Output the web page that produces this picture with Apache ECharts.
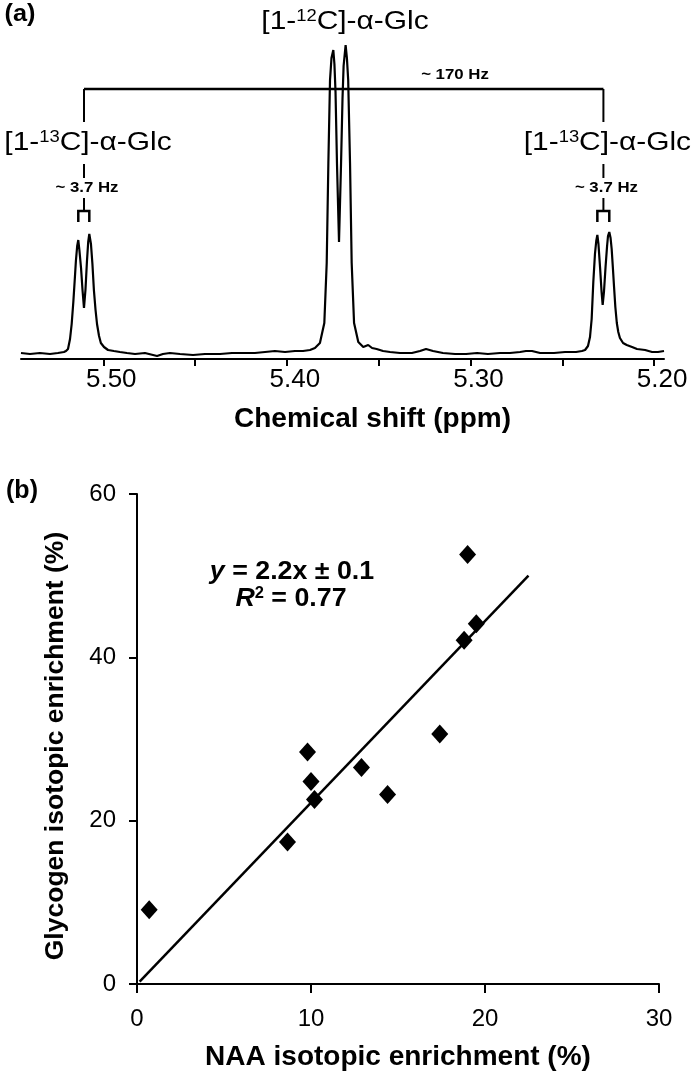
<!DOCTYPE html>
<html><head><meta charset="utf-8">
<script src="https://cdn.jsdelivr.net/npm/echarts/dist/echarts.min.js"></script>
<style>html,body{margin:0;padding:0;background:#fff}#c{width:692px;height:1075px}</style>
</head><body><div id="c"></div>
<script>
// ---- (a) 1H NMR spectrum ----
const shiftPpm = [
  5.5448,5.5399,5.5345,5.5290,5.5247,5.5214,5.5203,5.5192,5.5181,5.5172,
  5.5163,5.5154,5.5149,5.5142,5.5136,5.5130,5.5121,5.5113,5.5105,5.5097,
  5.5089,5.5082,5.5076,5.5067,5.5059,5.5051,5.5042,5.5034,5.5023,5.5013,
  5.4996,5.4974,5.4942,5.4909,5.4871,5.4827,5.4773,5.4707,5.4675,5.4637,
  5.4582,5.4511,5.4446,5.4364,5.4299,5.4239,5.4174,5.4119,5.4065,5.4010,
  5.3956,5.3912,5.3874,5.3847,5.3820,5.3796,5.3783,5.3774,5.3765,5.3757,
  5.3747,5.3741,5.3735,5.3727,5.3716,5.3705,5.3697,5.3691,5.3680,5.3673,
  5.3666,5.3656,5.3647,5.3634,5.3611,5.3584,5.3557,5.3536,5.3511,5.3476,
  5.3438,5.3384,5.3319,5.3275,5.3242,5.3204,5.3150,5.3084,5.3024,5.2964,
  5.2905,5.2839,5.2785,5.2730,5.2698,5.2665,5.2621,5.2545,5.2485,5.2425,
  5.2393,5.2376,5.2360,5.2349,5.2340,5.2331,5.2322,5.2315,5.2309,5.2303,
  5.2294,5.2286,5.2280,5.2273,5.2264,5.2256,5.2251,5.2244,5.2237,5.2231,
  5.2224,5.2218,5.2211,5.2203,5.2195,5.2186,5.2169,5.2149,5.2120,5.2093,
  5.2049,5.2011,5.1979,5.1946
];
const intensity = [
  1,0,1,0,1,2,3,5,15,30,
  52,78,93,108,114,104,86,64,46,64,
  92,112,120,110,90,64,44,30,18,11,
  7,4,3,2,1,0,1,-2,0,1,
  0,-1,0,0,1,1,1,2,3,2,
  3,3,4,6,11,31,91,191,274,296,
  304,290,262,190,112,190,255,288,309,296,
  274,191,91,31,12,7,9,6,5,3,
  2,1,1,3,5,3,1,0,0,1,
  0,1,1,2,3,3,1,1,2,2,
  3,4,8,17,35,72,100,113,119,110,
  86,62,49,62,88,108,118,122,116,105,
  85,67,47,31,22,16,11,9,7,5,
  4,2,2,3
];
const ppmTickValues = [5.20,5.25,5.30,5.35,5.40,5.45,5.50];
const ppmLabelValues = [5.20,5.30,5.40,5.50];
// annotation anchors (ppm)
const couplingCenters = [5.5105, 5.2276];
const doubletPeaks = [[5.5136, 5.5076], [5.2309, 5.2244]];

// ---- (b) enrichment scatter ----
const naaEnrichment      = [0.7, 8.65, 9.8, 10.0, 10.2, 12.9, 14.4, 17.4, 18.8, 19.5, 19.0];
const glycogenEnrichment = [9.1, 17.4, 28.4, 24.8, 22.6, 26.5, 23.2, 30.6, 42.1, 44.1, 52.6];
const fitLineX = [0.15, 22.5];
const fitLineY = [0.3, 50.0];

const FONT = '"Liberation Sans", Arial, Helvetica, sans-serif';
const chart = echarts.init(document.getElementById('c'), null, {renderer:'canvas'});

const blackLine = {color:'#000', width:2};
const option = {
  animation:false,
  backgroundColor:'#fff',
  textStyle:{fontFamily:FONT, color:'#000'},
  grid:[
    {left:21, right:28, top:40, height:319, outerBoundsMode:'none', containLabel:false},
    {left:137, right:33, top:494, bottom:91, outerBoundsMode:'none', containLabel:false}
  ],
  xAxis:[
    {gridIndex:0, type:'value', inverse:true, min:5.1946, max:5.5448,
     axisLine:{show:true, onZero:false, lineStyle:blackLine},
     axisTick:{show:true, customValues:ppmTickValues, length:7, lineStyle:blackLine},
     axisLabel:{show:true, customValues:ppmLabelValues, formatter:v=>Number(v).toFixed(2),
       fontSize:26, color:'#000', fontFamily:FONT, margin:8, padding:[0,0,0,16]},
     splitLine:{show:false},
     name:'Chemical shift (ppm)', nameLocation:'middle', nameGap:46,
     nameTextStyle:{fontSize:28, fontWeight:'bold', color:'#000', fontFamily:FONT, lineHeight:28, padding:[0,0,0,60]}
    },
    {gridIndex:1, type:'value', min:0, max:30, interval:10,
     axisLine:{show:true, onZero:false, lineStyle:blackLine},
     axisTick:{show:true, length:9, lineStyle:blackLine},
     axisLabel:{show:true, fontSize:24, color:'#000', fontFamily:FONT, margin:23},
     splitLine:{show:false},
     name:'NAA isotopic enrichment (%)', nameLocation:'middle', nameGap:59,
     nameTextStyle:{fontSize:28, fontWeight:'bold', color:'#000', fontFamily:FONT, lineHeight:28}
    }
  ],
  yAxis:[
    {gridIndex:0, type:'value', min:-5, max:314, show:false, splitLine:{show:false}},
    {gridIndex:1, type:'value', min:0, max:60, interval:20,
     axisLine:{show:true, onZero:false, lineStyle:blackLine},
     axisTick:{show:true, length:8, lineStyle:blackLine},
     axisLabel:{show:true, fontSize:24, color:'#000', fontFamily:FONT, margin:21},
     splitLine:{show:false},
     name:'Glycogen isotopic enrichment (%)', nameLocation:'middle', nameGap:68,
     nameTextStyle:{fontSize:26.5, fontWeight:'bold', color:'#000', fontFamily:FONT, lineHeight:27, padding:[0,14,0,0]}
    }
  ],
  series:[
    {type:'line', xAxisIndex:0, yAxisIndex:0, data:shiftPpm.map((p,i)=>[p,intensity[i]]),
     symbol:'none', showSymbol:false, lineStyle:{color:'#000', width:2.2}, silent:true, z:3},
    {type:'scatter', xAxisIndex:1, yAxisIndex:1, data:naaEnrichment.map((v,i)=>[v,glycogenEnrichment[i]]),
     symbol:'diamond', symbolSize:[17,19], itemStyle:{color:'#000', opacity:1}, z:4},
    {type:'line', xAxisIndex:1, yAxisIndex:1, data:fitLineX.map((v,i)=>[v,fitLineY[i]]),
     symbol:'none', showSymbol:false, lineStyle:{color:'#000', width:2.5}, silent:true, z:3}
  ]
};
chart.setOption(option);

const px = v => chart.convertToPixel({xAxisIndex:0}, v);
function txt(x, y, text, size, weight, sx, extra){
  const st = Object.assign({text:text, fontSize:size, fontWeight:weight||'normal', fontFamily:FONT,
    fill:'#000', align:'center', verticalAlign:'middle', textAlign:'center', textVerticalAlign:'middle'}, extra||{});
  return {type:'text', x:x, y:y, scaleX:sx||1, z:20, style:st};
}
function seg(x1,y1,x2,y2,w){
  return {type:'line', z:10, shape:{x1:x1,y1:y1,x2:x2,y2:y2}, style:{stroke:'#000', lineWidth:w||2}};
}
const supRich = {sup:{fontSize:16, fontFamily:FONT, verticalAlign:'top', fill:'#000'}};
const els = [];
const cL = px(couplingCenters[0]), cR = px(couplingCenters[1]);
const barY = 89, brY = 211, legY = 222;
els.push(seg(cL, barY, cR, barY, 2.5));
[cL, cR].forEach((c, k) => {
  els.push(seg(c, barY, c, brY, 2));
  const a = px(doubletPeaks[k][0]), b = px(doubletPeaks[k][1]);
  els.push({type:'polyline', z:10, shape:{points:[[a,legY],[a,brY],[b,brY],[b,legY]]}, style:{stroke:'#000', lineWidth:2.5, fill:null}});
  els.push(txt(c+4, 143, '[1-{sup|13}C]-α-Glc', 26, 'normal', 1.15,
    {rich:supRich, backgroundColor:'#fff', padding:[8,2,8,2]}));
  els.push(txt(c+3, 188, '~ 3.7 Hz', 14, 'bold', 1.2, {backgroundColor:'#fff', padding:[3,1,3,1]}));
});
els.push(txt(345, 22, '[1-{sup|12}C]-α-Glc', 26, 'normal', 1.15, {rich:supRich}));
els.push(txt(455, 75, '~ 170 Hz', 14, 'bold', 1.2));
els.push(txt(20, 15, '(a)', 23, 'bold', 1.1));
els.push(txt(22, 491, '(b)', 25, 'bold', 1));
const eqRich = {i:{fontStyle:'italic', fontWeight:'bold', fontSize:26, fontFamily:FONT, fill:'#000'},
                sup:{fontSize:16, fontWeight:'bold', fontFamily:FONT, verticalAlign:'top', fill:'#000'}};
els.push(txt(292, 572, '{i|y} = 2.2x ± 0.1', 26, 'bold', 1.03, {rich:eqRich}));
els.push(txt(291, 599, '{i|R}{sup|2} = 0.77', 26, 'bold', 1.03, {rich:eqRich}));
chart.setOption({graphic:{elements:els}});
</script>
</body></html>
